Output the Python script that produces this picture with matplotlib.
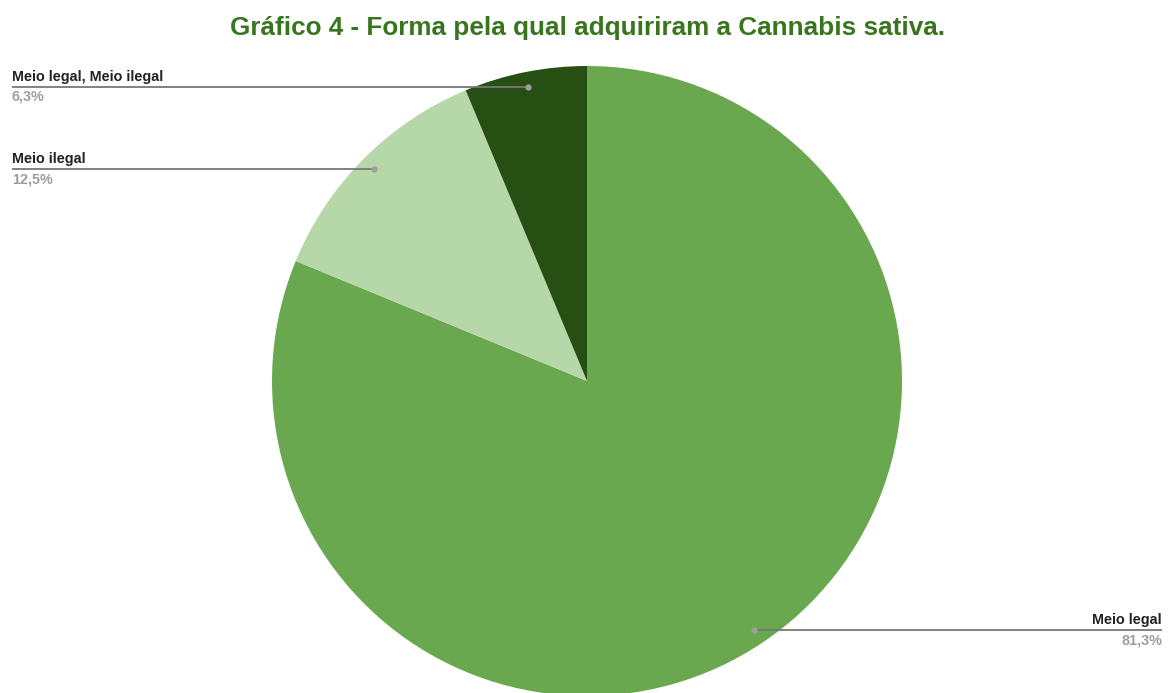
import numpy as np
import matplotlib

matplotlib.use("Agg")
import matplotlib.pyplot as plt

plt.rcParams["font.family"] = ["Liberation Sans", "DejaVu Sans"]

TITLE = "Gráfico 4 - Forma pela qual adquiriram a Cannabis sativa."
LABELS = ["Meio legal", "Meio ilegal", "Meio legal, Meio ilegal"]
VALUES = [81.3, 12.5, 6.3]
COLORS = ["#6aa84f", "#b6d7a8", "#274e13"]

W, H = 1169, 693
CX, CY, R = 587, H - 381, 315
LINE = "#777777"

fig = plt.figure(figsize=(W / 100, H / 100), dpi=100)
ax = fig.add_axes([0, 0, 1, 1])

wedges, _ = ax.pie(VALUES, colors=COLORS, startangle=90, counterclock=False,
                   center=(CX, CY), radius=R, frame=True,
                   wedgeprops=dict(linewidth=0))
ax.set_xlim(0, W)
ax.set_ylim(0, H)
ax.set_aspect("equal")
ax.axis("off")

# leader lines: dot inside each wedge, horizontal line to the page edge
for w, lab, val in zip(wedges, LABELS, VALUES):
    mid = np.deg2rad((w.theta1 + w.theta2) / 2)
    dx, dy = CX + 0.952 * R * np.cos(mid), CY + 0.952 * R * np.sin(mid)
    pct = f"{val:.1f}".replace(".", ",") + "%"
    if dx < CX:
        x_end, ha, tx = 12, "left", 12
    else:
        x_end, ha, tx = W - 7, "right", W - 7
    ax.plot([dx, x_end], [dy, dy], color=LINE, lw=1.3, solid_capstyle="butt")
    ax.plot(dx, dy, "o", color="#9e9e9e", ms=4.5, mec="none")
    ax.text(tx, dy + 3, lab, ha=ha, va="bottom", fontsize=10.4, fontweight="bold",
            color="#222222")
    ax.text(tx, dy - 3, pct, ha=ha, va="top", fontsize=10.4, fontweight="bold",
            color="#9e9e9e")

fig.text(588 / W, 1 - 28 / H, TITLE, ha="center", va="center", fontsize=18.8,
         fontweight="bold", color="#38761d")

fig.savefig("out.png", dpi=100, facecolor="white")
